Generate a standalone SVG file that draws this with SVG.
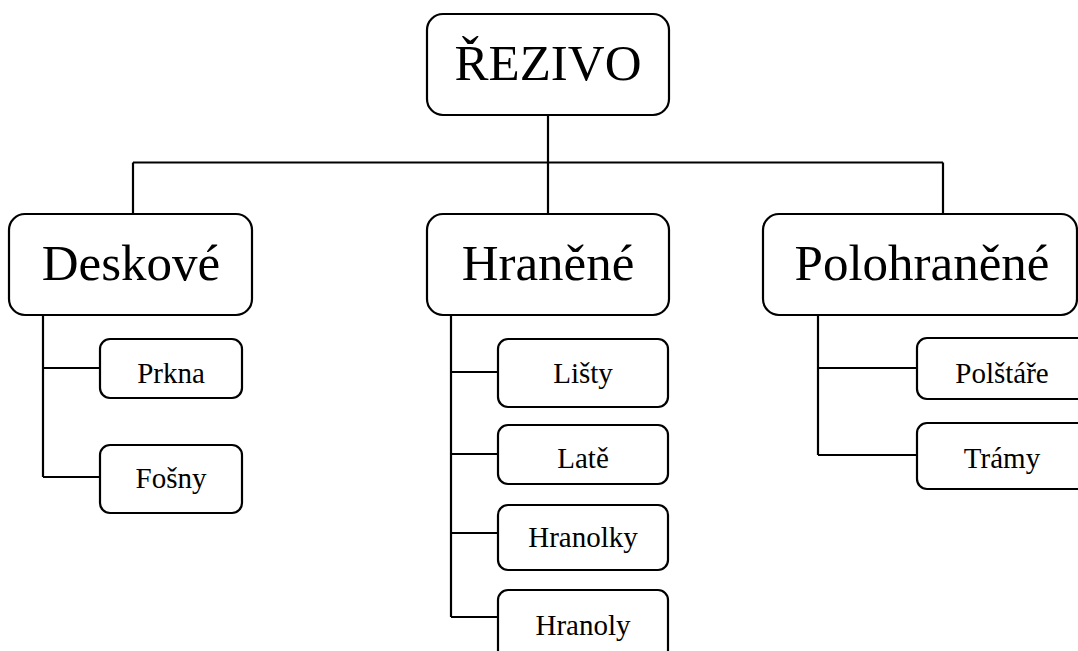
<svg xmlns="http://www.w3.org/2000/svg" width="1078" height="651" viewBox="0 0 1078 651">
<style>
.box{fill:#fff;stroke:#000;stroke-width:2.2}
.big{font-family:"Liberation Serif","Times New Roman",serif;font-size:51px;text-anchor:middle;fill:#000}
.small{font-family:"Liberation Serif","Times New Roman",serif;font-size:29px;text-anchor:middle;fill:#000}
.conn{fill:none;stroke:#000;stroke-width:2.2}
</style>
<rect width="1078" height="651" fill="#fff"/>
<g id="connectors">
<path class="conn" d="M548 115V162.5M133 162.5H943M133 162.5V214M548 162.5V214M943 162.5V214"/>
<path class="conn" d="M43 315V477M43 368H100M43 477H100"/>
<path class="conn" d="M451 315V617M451 372H498M451 454H498M451 533H498M451 617H498"/>
<path class="conn" d="M818 315V455M818 368H917M818 455H917"/>
</g>
<g id="n-rezivo"><rect class="box" x="427" y="14" width="242" height="101" rx="16"/><text class="big" x="548" y="80">ŘEZIVO</text></g>
<g id="n-deskove"><rect class="box" x="9" y="214" width="243" height="101" rx="16"/><text class="big" x="131" y="280">Deskové</text></g>
<g id="n-hranene"><rect class="box" x="427" y="214" width="242" height="101" rx="16"/><text class="big" x="548" y="280">Hraněné</text></g>
<g id="n-polohranene"><rect class="box" x="763" y="214" width="314" height="101" rx="16"/><text class="big" x="922" y="280">Polohraněné</text></g>
<g id="n-prkna"><rect class="box" x="100" y="339" width="142" height="59" rx="10"/><text class="small" x="171" y="383">Prkna</text></g>
<g id="n-fosny"><rect class="box" x="100" y="445" width="142" height="68" rx="10"/><text class="small" x="171" y="488">Fošny</text></g>
<g id="n-listy"><rect class="box" x="498" y="339" width="170" height="68" rx="10"/><text class="small" x="583" y="383">Lišty</text></g>
<g id="n-late"><rect class="box" x="498" y="425" width="170" height="59" rx="10"/><text class="small" x="583" y="468">Latě</text></g>
<g id="n-hranolky"><rect class="box" x="498" y="505" width="170" height="65" rx="10"/><text class="small" x="583" y="547">Hranolky</text></g>
<g id="n-hranoly"><rect class="box" x="498" y="590" width="170" height="70" rx="10"/><text class="small" x="583" y="635">Hranoly</text></g>
<g id="n-polstare"><rect class="box" x="917" y="338" width="172" height="61" rx="10"/><text class="small" x="1002" y="383">Polštáře</text></g>
<g id="n-tramy"><rect class="box" x="917" y="423" width="172" height="66" rx="10"/><text class="small" x="1002" y="468">Trámy</text></g>
</svg>
